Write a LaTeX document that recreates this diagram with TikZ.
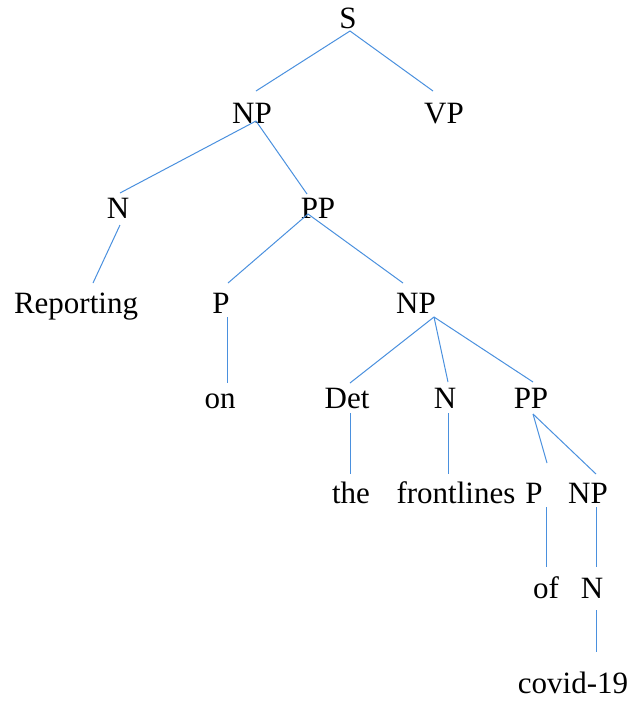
\documentclass[tikz,border=0pt]{standalone}
\usepackage{fontspec}
\setmainfont{Liberation Serif}
\definecolor{edgeblue}{RGB}{74,144,222}
\begin{document}
\begin{tikzpicture}[x=1pt,y=-1pt,
  lbl/.style={font=\fontsize{31}{31}\selectfont, inner sep=0pt, anchor=base},
  edge/.style={draw=edgeblue, line width=1pt}]
\useasboundingbox (0,0) rectangle (632,702);

% tree labels (placed by baseline)
\node[lbl] (s)     at (348,28)  {S};
\node[lbl] (np)    at (252,123) {NP};
\node[lbl] (vp)    at (444,123) {VP};
\node[lbl] (n)     at (118,218) {N};
\node[lbl] (pp)    at (318,218) {PP};
\node[lbl] (rep)   at (76,313)  {Reporting};
\node[lbl] (p)     at (221,313) {P};
\node[lbl] (np2)   at (416,313) {NP};
\node[lbl] (on)    at (220,408) {on};
\node[lbl] (det)   at (347,408) {Det};
\node[lbl] (n2)    at (445,408) {N};
\node[lbl] (pp2)   at (531,408) {PP};
\node[lbl] (the)   at (351,503) {the};
\node[lbl] (front) at (456,503) {frontlines};
\node[lbl] (p2)    at (534,503) {P};
\node[lbl] (np3)   at (588,503) {NP};
\node[lbl] (of)    at (546,598) {of};
\node[lbl] (n3)    at (592,598) {N};
\node[lbl] (cov)   at (573,693) {covid-19};

% attachment points of the branches, relative to each label
\coordinate (s-b)     at ([shift={(2,3)}]s.base);
\coordinate (np-t)    at ([shift={(4,-32)}]np.base);
\coordinate (np-b)    at ([shift={(4,-2)}]np.base);
\coordinate (vp-t)    at ([shift={(-11,-32)}]vp.base);
\coordinate (n-t)     at ([shift={(2,-25)}]n.base);
\coordinate (n-b)     at ([shift={(2,7)}]n.base);
\coordinate (pp-t)    at ([shift={(-11,-24)}]pp.base);
\coordinate (pp-b)    at ([shift={(-10,-4)}]pp.base);
\coordinate (rep-t)   at ([shift={(17,-30)}]rep.base);
\coordinate (p-t)     at ([shift={(7,-30)}]p.base);
\coordinate (p-b)     at ([shift={(6,4)}]p.base);
\coordinate (np2-t)   at ([shift={(-13,-30)}]np2.base);
\coordinate (np2-b)   at ([shift={(18,4)}]np2.base);
\coordinate (on-t)    at ([shift={(7,-25)}]on.base);
\coordinate (det-t)   at ([shift={(3,-25)}]det.base);
\coordinate (det-b)   at ([shift={(3,5)}]det.base);
\coordinate (n2-t)    at ([shift={(3,-26)}]n2.base);
\coordinate (n2-b)    at ([shift={(3,5)}]n2.base);
\coordinate (pp2-t)   at ([shift={(2,-26)}]pp2.base);
\coordinate (pp2-b)   at ([shift={(2,6)}]pp2.base);
\coordinate (the-t)   at ([shift={(-1,-29)}]the.base);
\coordinate (front-t) at ([shift={(-8,-29)}]front.base);
\coordinate (p2-t)    at ([shift={(13,-40)}]p2.base);
\coordinate (p2-b)    at ([shift={(12,4)}]p2.base);
\coordinate (np3-t)   at ([shift={(8,-29)}]np3.base);
\coordinate (np3-b)   at ([shift={(8,4)}]np3.base);
\coordinate (of-t)    at ([shift={(0,-31)}]of.base);
\coordinate (n3-t)    at ([shift={(4,-31)}]n3.base);
\coordinate (n3-b)    at ([shift={(4,12)}]n3.base);
\coordinate (cov-t)   at ([shift={(23,-41)}]cov.base);

% branches
\draw[edge] (s-b) -- (np-t);
\draw[edge] (s-b) -- (vp-t);
\draw[edge] (np-b) -- (n-t);
\draw[edge] (np-b) -- (pp-t);
\draw[edge] (n-b) -- (rep-t);
\draw[edge] (pp-b) -- (p-t);
\draw[edge] (pp-b) -- (np2-t);
\draw[edge] (p-b) -- (on-t);
\draw[edge] (np2-b) -- (det-t);
\draw[edge] (np2-b) -- (n2-t);
\draw[edge] (np2-b) -- (pp2-t);
\draw[edge] (det-b) -- (the-t);
\draw[edge] (n2-b) -- (front-t);
\draw[edge] (pp2-b) -- (p2-t);
\draw[edge] (pp2-b) -- (np3-t);
\draw[edge] (p2-b) -- (of-t);
\draw[edge] (np3-b) -- (n3-t);
\draw[edge] (n3-b) -- (cov-t);
\end{tikzpicture}
\end{document}
